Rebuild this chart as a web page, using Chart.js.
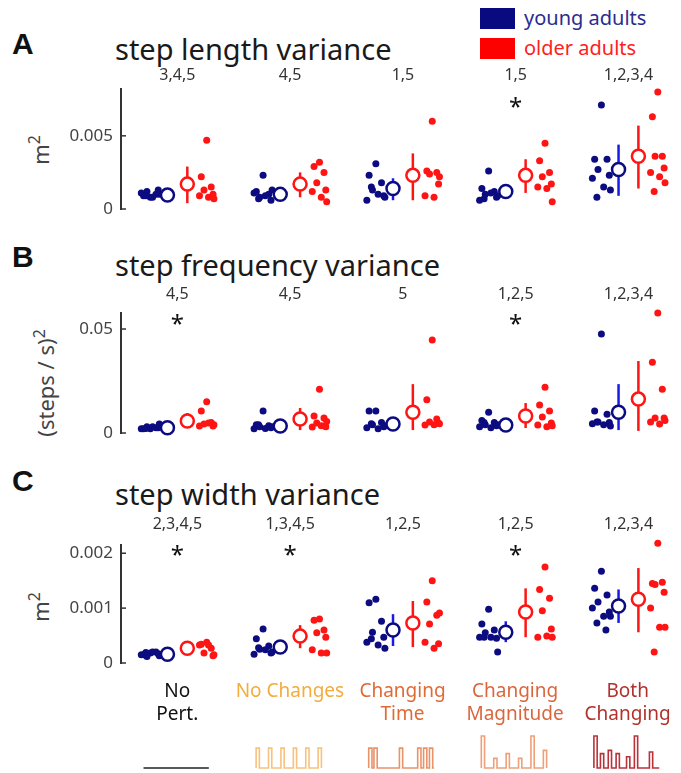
<!DOCTYPE html>
<html>
<head>
<meta charset="utf-8">
<script src="https://cdn.jsdelivr.net/npm/chart.js@4.4.1/dist/chart.umd.min.js"></script>
<style>
  body { margin: 0; background: #fff; font-family: 'Noto Sans', sans-serif; }
  #fig { position: relative; width: 681px; height: 773px; overflow: hidden; }
  canvas { position: absolute; left: 0; }
  .letter { position: absolute; left: 12px; font: bold 30px/30px 'Liberation Sans', Arial, sans-serif; color: #111; }
  .title { position: absolute; left: 115px; font-size: 29px; line-height: 29px; color: #1a1a1a; white-space: nowrap; }
  .sw { position: absolute; left: 480px; width: 35px; height: 21px; }
  .lg { position: absolute; left: 524px; font-size: 20px; line-height: 20px; white-space: nowrap; }
  .ytitle { position: absolute; font-size: 22px; line-height: 22px; color: #444; white-space: nowrap;
            transform: translate(-50%, -50%) rotate(-90deg); }
  .ytitle sup { font-size: 0.72em; vertical-align: 0.55em; line-height: 0; }
</style>
</head>
<body>
<div id="fig">
  <div class="letter" style="top:29px">A</div>
  <div class="letter" style="top:242px">B</div>
  <div class="letter" style="top:466px">C</div>
  <div class="title" style="top:34px">step length variance</div>
  <div class="title" style="top:250px">step frequency variance</div>
  <div class="title" style="top:479px">step width variance</div>
  <div class="sw" style="top:8px;background:#0a0a80"></div>
  <div class="lg" style="top:8px;color:#2b2b90">young adults</div>
  <div class="sw" style="top:38px;background:#ff0000"></div>
  <div class="lg" style="top:38px;color:#ff2020">older adults</div>
  <div class="ytitle" style="left:40px;top:150px">m<sup>2</sup></div>
  <div class="ytitle" style="left:45px;top:383px">(steps / s)<sup>2</sup></div>
  <div class="ytitle" style="left:40px;top:607px">m<sup>2</sup></div>
  <canvas id="cA" width="681" height="161" style="top:62px"></canvas>
  <canvas id="cB" width="681" height="167" style="top:280px"></canvas>
  <canvas id="cC" width="681" height="172" style="top:505px"></canvas>
  <canvas id="cIcons" width="681" height="97" style="top:676px"></canvas>
</div>
<script>
// conditions
const categories = [['No', 'Pert.'], ['No Changes', ''], ['Changing', 'Time'], ['Changing', 'Magnitude'], ['Both', 'Changing']];
const categoryColors = ['#111111', '#f3ac3e', '#e06a34', '#db663c', '#b2312c'];

// A: step length variance (m^2)
const aYoung = [
  [0.0008, 0.0009, 0.0010, 0.0012, 0.0013, 0.0011, 0.0008, 0.0010, 0.0009],
  [0.0023, 0.0012, 0.0010, 0.0008, 0.0006, 0.0011, 0.0009, 0.0013, 0.0007],
  [0.0031, 0.0023, 0.0018, 0.0013, 0.0009, 0.0006, 0.0010, 0.0008, 0.0015],
  [0.0026, 0.0014, 0.0012, 0.0010, 0.0008, 0.0006, 0.0011, 0.0009, 0.0007],
  [0.0071, 0.0034, 0.0034, 0.0027, 0.0023, 0.0021, 0.0015, 0.0013, 0.0008]
];
const aOlder = [
  [0.0047, 0.0022, 0.0015, 0.0013, 0.0010, 0.0009, 0.0008, 0.0007],
  [0.0032, 0.0029, 0.0025, 0.0018, 0.0013, 0.0012, 0.0008, 0.0005],
  [0.0060, 0.0026, 0.0025, 0.0024, 0.0017, 0.0009, 0.0008, 0.0022],
  [0.0045, 0.0033, 0.0025, 0.0022, 0.0017, 0.0015, 0.0014, 0.0005],
  [0.0080, 0.0063, 0.0036, 0.0036, 0.0028, 0.0025, 0.0022, 0.0018, 0.0012]
];
const aYoungMean = [0.00095, 0.0010, 0.0014, 0.0012, 0.0027];
const aYoungLo = [0.0008, 0.0008, 0.0006, 0.0007, 0.0009];
const aYoungHi = [0.0011, 0.0012, 0.0021, 0.0017, 0.0044];
const aOlderMean = [0.0017, 0.0017, 0.0023, 0.0023, 0.0036];
const aOlderLo = [0.0004, 0.0008, 0.0006, 0.0011, 0.0014];
const aOlderHi = [0.0029, 0.0025, 0.0038, 0.0034, 0.0057];
const aTicks = [0, 0.005];
const aTickLabels = ['0', '0.005'];
const aGroupLabels = ['3,4,5', '4,5', '1,5', '1,5', '1,2,3,4'];
const aStars = [3];

// B: step frequency variance ((steps/s)^2)
const bYoung = [
  [0.0020, 0.0020, 0.0025, 0.0030, 0.0025, 0.0020, 0.0030, 0.0043, 0.0022],
  [0.0106, 0.0040, 0.0035, 0.0030, 0.0025, 0.0020, 0.0022, 0.0030, 0.0040],
  [0.0106, 0.0106, 0.0050, 0.0040, 0.0030, 0.0025, 0.0020, 0.0035, 0.0045],
  [0.0100, 0.0060, 0.0050, 0.0040, 0.0035, 0.0030, 0.0025, 0.0040, 0.0050],
  [0.0476, 0.0106, 0.0090, 0.0053, 0.0050, 0.0045, 0.0040, 0.0034, 0.0053]
];
const bOlder = [
  [0.0150, 0.0106, 0.0050, 0.0043, 0.0034, 0.0034, 0.0048, 0.0040],
  [0.0210, 0.0082, 0.0072, 0.0048, 0.0030, 0.0029, 0.0035, 0.0055],
  [0.0447, 0.0160, 0.0067, 0.0053, 0.0048, 0.0038, 0.0040, 0.0045],
  [0.0220, 0.0135, 0.0106, 0.0077, 0.0048, 0.0038, 0.0030, 0.0035],
  [0.0577, 0.0340, 0.0210, 0.0072, 0.0072, 0.0053, 0.0043, 0.0060]
];
const bYoungMean = [0.0025, 0.0034, 0.0043, 0.0038, 0.0100];
const bYoungLo = [0.0020, 0.0025, 0.0030, 0.0028, 0.0014];
const bYoungHi = [0.0030, 0.0045, 0.0060, 0.0050, 0.0235];
const bOlderMean = [0.0058, 0.0067, 0.0100, 0.0082, 0.0163];
const bOlderLo = [0.0025, 0.0014, 0.0014, 0.0024, 0.0010];
const bOlderHi = [0.0096, 0.0120, 0.0235, 0.0144, 0.0346];
const bTicks = [0, 0.05];
const bTickLabels = ['0', '0.05'];
const bGroupLabels = ['4,5', '4,5', '5', '1,2,5', '1,2,3,4'];
const bStars = [0, 3];

// C: step width variance (m^2)
const cYoung = [
  [0.00018, 0.00015, 0.00020, 0.00012, 0.00017, 0.00015, 0.00020, 0.00013, 0.00019],
  [0.00062, 0.00044, 0.00031, 0.00025, 0.00018, 0.00016, 0.00024, 0.00020, 0.00028],
  [0.00116, 0.00110, 0.00076, 0.00056, 0.00047, 0.00038, 0.00033, 0.00027, 0.00044],
  [0.00098, 0.00071, 0.00060, 0.00055, 0.00045, 0.00047, 0.00047, 0.00020, 0.00047],
  [0.00167, 0.00136, 0.00124, 0.00111, 0.00093, 0.00100, 0.00085, 0.00085, 0.00073, 0.00060]
];
const cOlder = [
  [0.00038, 0.00034, 0.00027, 0.00018, 0.00013, 0.00033, 0.00033, 0.00015],
  [0.00080, 0.00078, 0.00060, 0.00055, 0.00047, 0.00024, 0.00018, 0.00018],
  [0.00150, 0.00111, 0.00087, 0.00071, 0.00035, 0.00038, 0.00027, 0.00091],
  [0.00175, 0.00134, 0.00118, 0.00095, 0.00062, 0.00047, 0.00049, 0.00047],
  [0.00218, 0.00145, 0.00147, 0.00143, 0.00129, 0.00100, 0.00065, 0.00065, 0.00020]
];
const cYoungMean = [0.00016, 0.00029, 0.00060, 0.00056, 0.00104];
const cYoungLo = [0.00013, 0.00020, 0.00031, 0.00038, 0.00073];
const cYoungHi = [0.00020, 0.00038, 0.00089, 0.00076, 0.00134];
const cOlderMean = [0.00027, 0.00049, 0.00073, 0.00093, 0.00116];
const cOlderLo = [0.00020, 0.00027, 0.00029, 0.00047, 0.00056];
const cOlderHi = [0.00034, 0.00069, 0.00113, 0.00136, 0.00173];
const cTicks = [0, 0.001, 0.002];
const cTickLabels = ['0', '0.001', '0.002'];
const cGroupLabels = ['2,3,4,5', '1,3,4,5', '1,2,5', '1,2,5', '1,2,3,4'];
const cStars = [0, 1, 3];

// perturbation profiles under the condition names (pulse onsets 0..1, pulse heights 0..1)
const iconPulseTimes = [
  [],
  [0, 0.19, 0.38, 0.57, 0.76, 0.95],
  [0, 0.08, 0.47, 0.75, 0.84, 0.93],
  [0, 0.19, 0.38, 0.57, 0.76, 0.95],
  [0, 0.1, 0.22, 0.34, 0.5, 0.62, 0.85]
];
const iconPulseHeights = [
  [],
  [0.62, 0.62, 0.62, 0.62, 0.62, 0.62],
  [0.62, 0.62, 0.62, 0.62, 0.62, 0.62],
  [1, 0.3, 0.45, 0.3, 1, 0.55],
  [1, 0.45, 0.55, 0.45, 0.35, 1, 0.5]
];
const iconColors = ['#222222', '#f6c27f', '#e8936a', '#eea07a', '#b8323a'];

const NAVY = '#0c0c80', BLUE = '#1a1ae8', RED = '#ff1414';
const X_MIN = -0.5, X_MAX = 4.386;
const jitter = [0, -0.06, 0.05, -0.03, 0.07, -0.08, 0.02, 0.08, -0.04, 0.04];

Chart.defaults.font.family = "'Noto Sans', sans-serif";
Chart.defaults.animation = false;

const starsPlugin = {
  id: 'stars',
  afterDatasetsDraw(chart, args, opts) {
    if (!opts.idx) return;
    const ctx = chart.ctx;
    ctx.save();
    ctx.fillStyle = '#111';
    ctx.font = "24px 'Noto Sans'";
    ctx.textAlign = 'center';
    ctx.textBaseline = 'alphabetic';
    opts.idx.forEach(i => {
      ctx.fillText('*', chart.scales.x.getPixelForValue(i), chart.scales.y.getPixelForValue(opts.y) + 13);
    });
    ctx.restore();
  }
};

const innerTicks = {
  id: 'innerTicks',
  afterDraw(chart, args, opts) {
    if (!opts.vals) return;
    const ctx = chart.ctx, left = chart.chartArea.left;
    ctx.save();
    ctx.strokeStyle = '#333';
    ctx.lineWidth = 1.5;
    opts.vals.forEach(v => {
      const y = chart.scales.y.getPixelForValue(v);
      ctx.beginPath();
      ctx.moveTo(left, y);
      ctx.lineTo(left + 5, y);
      ctx.stroke();
    });
    ctx.restore();
  }
};

function panel(id, p) {
  const datasets = [];
  for (let g = 0; g < 5; g++) {
    datasets.push({ type: 'scatter', data: [{ x: g - 0.088, y: p.ym[g] }], pointRadius: 6.5, borderWidth: 2.5,
      borderColor: NAVY, backgroundColor: '#fff', order: 0, clip: false });
    datasets.push({ type: 'scatter', data: [{ x: g + 0.088, y: p.om[g] }], pointRadius: 6.5, borderWidth: 2.5,
      borderColor: RED, backgroundColor: '#fff', order: 0, clip: false });
    datasets.push({ type: 'line', data: [{ x: g - 0.088, y: p.ylo[g] }, { x: g - 0.088, y: p.yhi[g] }],
      borderColor: BLUE, borderWidth: 2.5, pointRadius: 0, order: 1, clip: false });
    datasets.push({ type: 'line', data: [{ x: g + 0.088, y: p.olo[g] }, { x: g + 0.088, y: p.ohi[g] }],
      borderColor: RED, borderWidth: 2.5, pointRadius: 0, order: 1, clip: false });
    datasets.push({ type: 'scatter', data: p.young[g].map((v, k) => ({ x: g - 0.24 + jitter[k], y: v })),
      pointRadius: 3.5, borderWidth: 0, backgroundColor: NAVY, order: 2, clip: false });
    datasets.push({ type: 'scatter', data: p.older[g].map((v, k) => ({ x: g + 0.26 + jitter[k] * 0.8, y: v })),
      pointRadius: 3.5, borderWidth: 0, backgroundColor: RED, order: 2, clip: false });
  }
  return new Chart(document.getElementById(id), {
    type: 'scatter',
    data: { datasets },
    options: {
      responsive: false,
      layout: { padding: { left: 0, right: 3, top: 0, bottom: 14 } },
      plugins: {
        legend: { display: false }, tooltip: { enabled: false },
        stars: { idx: p.stars, y: p.starY },
        innerTicks: { vals: p.ticks }
      },
      scales: {
        x: {
          type: 'linear', position: 'top', min: X_MIN, max: X_MAX,
          grid: { display: false, drawTicks: false }, border: { display: false },
          afterBuildTicks: s => { s.ticks = [0, 1, 2, 3, 4].map(v => ({ value: v })); },
          afterFit: s => { s.height = p.xh; },
          ticks: { padding: p.pad, autoSkip: false, maxRotation: 0, color: '#333', font: { size: 16 },
            callback: (v, i) => p.groups[i] }
        },
        y: {
          min: 0, max: p.max,
          grid: { display: false, drawTicks: false },
          border: { display: true, color: '#333', width: 2 },
          afterBuildTicks: s => { s.ticks = p.ticks.map(v => ({ value: v })); },
          afterFit: s => { s.width = 121; s.paddingTop = 0; s.paddingBottom = 0; },
          ticks: { padding: 8, color: '#444', font: { size: 17 }, callback: (v, i) => p.tickLabels[i] }
        }
      }
    },
    plugins: [starsPlugin, innerTicks]
  });
}

panel('cA', { young: aYoung, older: aOlder, ym: aYoungMean, ylo: aYoungLo, yhi: aYoungHi,
  om: aOlderMean, olo: aOlderLo, ohi: aOlderHi, ticks: aTicks, tickLabels: aTickLabels, groups: aGroupLabels,
  stars: aStars, starY: 0.0073, max: 0.0082, xh: 27, pad: 4 });
panel('cB', { young: bYoung, older: bOlder, ym: bYoungMean, ylo: bYoungLo, yhi: bYoungHi,
  om: bOlderMean, olo: bOlderLo, ohi: bOlderHi, ticks: bTicks, tickLabels: bTickLabels, groups: bGroupLabels,
  stars: bStars, starY: 0.0548, max: 0.0577, xh: 33, pad: 9 });
panel('cC', { young: cYoung, older: cOlder, ym: cYoungMean, ylo: cYoungLo, yhi: cYoungHi,
  om: cOlderMean, olo: cOlderLo, ohi: cOlderHi, ticks: cTicks, tickLabels: cTickLabels, groups: cGroupLabels,
  stars: cStars, starY: 0.00205, max: 0.00215, xh: 40, pad: 11 });

// condition names + perturbation icons
const iconLeft = -0.3, iconWidth = 0.58, pulseW = 0.05;
function pulseLine(i) {
  const x0 = i + iconLeft;
  const pts = [{ x: x0, y: 0 }];
  iconPulseTimes[i].forEach((t, k) => {
    const a = x0 + t * iconWidth, b = a + pulseW * iconWidth, h = iconPulseHeights[i][k];
    pts.push({ x: a, y: 0 }, { x: a, y: h }, { x: b, y: h }, { x: b, y: 0 });
  });
  pts.push({ x: x0 + iconWidth, y: 0 });
  return pts;
}
new Chart(document.getElementById('cIcons'), {
  type: 'line',
  data: {
    datasets: categories.map((c, i) => ({
      data: pulseLine(i), borderColor: iconColors[i], borderWidth: 1.6, pointRadius: 0, tension: 0, clip: false
    }))
  },
  options: {
    responsive: false,
    layout: { padding: { left: 121, right: 3, top: 0, bottom: 5 } },
    plugins: { legend: { display: false }, tooltip: { enabled: false } },
    scales: {
      x: {
        type: 'linear', position: 'top', min: X_MIN, max: X_MAX,
        grid: { display: false, drawTicks: false }, border: { display: false },
        afterBuildTicks: s => { s.ticks = [0, 1, 2, 3, 4].map(v => ({ value: v })); },
        afterFit: s => { s.height = 60; },
        ticks: { padding: 10, autoSkip: false, maxRotation: 0, font: { size: 19, lineHeight: 1.2 },
          color: c => categoryColors[c.index], callback: (v, i) => categories[i] }
      },
      y: { display: false, min: 0, max: 1 }
    }
  }
});
</script>
</body>
</html>
